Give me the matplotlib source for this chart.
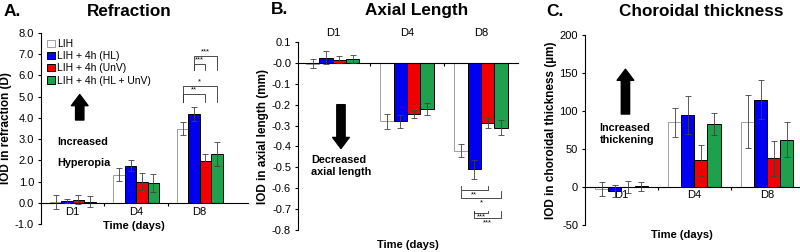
import numpy as np
import matplotlib
matplotlib.use('Agg')
import matplotlib.pyplot as plt
from matplotlib.patches import Patch

plt.rcParams['font.family'] = ['Liberation Sans', 'DejaVu Sans']

# categories and groups
days = ['D1', 'D4', 'D8']
groups = ['LIH', 'LIH + 4h (HL)', 'LIH + 4h (UnV)', 'LIH + 4h (HL + UnV)']
colors = ['white', '#0000f0', '#f00000', '#1ea04c']
edges = ['#a0a0a0', 'black', 'black', 'black']

# refraction (D)
refr_lih = [0.05, 1.32, 3.49]
refr_hl = [0.08, 1.75, 4.20]
refr_unv = [0.14, 0.98, 1.98]
refr_hlunv = [0.06, 0.95, 2.30]
refr_lih_err = [0.32, 0.30, 0.30]
refr_hl_err = [0.10, 0.25, 0.33]
refr_unv_err = [0.22, 0.40, 0.30]
refr_hlunv_err = [0.25, 0.42, 0.58]

# axial length (mm)
axl_lih = [-0.003, -0.28, -0.42]
axl_hl = [0.025, -0.28, -0.51]
axl_unv = [0.015, -0.245, -0.29]
axl_hlunv = [0.02, -0.22, -0.31]
axl_lih_err = [0.02, 0.035, 0.032]
axl_hl_err = [0.03, 0.03, 0.045]
axl_unv_err = [0.017, 0.02, 0.024]
axl_hlunv_err = [0.02, 0.03, 0.035]

# choroidal thickness (um)
cht_lih = [-3, 85, 86]
cht_hl = [-5, 95, 115]
cht_unv = [0, 35, 38]
cht_hlunv = [1, 83, 62]
cht_lih_err = [9, 19, 35]
cht_hl_err = [8, 25, 26]
cht_unv_err = [8, 20, 23]
cht_hlunv_err = [6, 14, 23]

W = 0.18
offs = (np.arange(4) - 1.5) * W

TICK_FS = 8
LABEL_FS = 8
YLABEL_FS = 8.5
TITLE_FS = 12.3
NOTE_FS = 7.8


def draw_bars(ax, means, errs):
    x = np.arange(len(days))
    for k in range(4):
        ax.bar(x + offs[k], means[k], W, color=colors[k], edgecolor=edges[k],
               linewidth=0.7, zorder=2)
        ax.errorbar(x + offs[k], means[k], yerr=errs[k], fmt='none',
                    ecolor='#404040', elinewidth=0.6, capsize=2, capthick=0.6, zorder=3)


def style_axes(ax, yticks, fmt, ylabel):
    for s in ['top', 'right']:
        ax.spines[s].set_visible(False)
    ax.spines['bottom'].set_position(('data', 0))
    ax.spines['left'].set_linewidth(0.8)
    ax.spines['bottom'].set_linewidth(0.8)
    ax.set_yticks(yticks)
    ax.set_yticklabels([fmt.format(v) for v in yticks], fontsize=TICK_FS)
    ax.set_ylabel(ylabel, fontsize=YLABEL_FS, fontweight='bold', labelpad=2)
    ax.tick_params(axis='y', length=2.5, width=0.8, pad=2.5)
    ax.set_xticks([0.5, 1.5])
    ax.tick_params(axis='x', which='major', length=2.5, width=0.8, labelbottom=False)
    ax.set_xticks([0, 1, 2], minor=True)
    ax.tick_params(axis='x', which='minor', length=0)


def bracket(ax, i, j, yline, yend, label, ytext, va='bottom'):
    x0 = 2 + offs[i]
    x1 = 2 + offs[j]
    ax.plot([x0, x0, x1, x1], [yend, yline, yline, yend], color='#303030', lw=0.6)
    ax.text((x0 + x1) / 2, ytext, label, ha='center', va=va, fontsize=5.5)


fig = plt.figure(figsize=(8, 2.52), dpi=100)

# ---------------- A. Refraction
axA = fig.add_axes([41 / 800, 28 / 252, 207 / 800, 191 / 252])
draw_bars(axA, [refr_lih, refr_hl, refr_unv, refr_hlunv],
          [refr_lih_err, refr_hl_err, refr_unv_err, refr_hlunv_err])
axA.set_xlim(-0.5, 2.76)
axA.set_ylim(-1, 8)
style_axes(axA, np.arange(-1, 9, 1), '{:.1f}', 'IOD in refraction (D)')
axA.set_xticklabels(days, minor=True, fontsize=TICK_FS)
axA.tick_params(axis='x', which='minor', pad=3)
axA.text(0.45, -0.01, 'Time (days)', transform=axA.transAxes, ha='center', va='center',
         fontsize=LABEL_FS, fontweight='bold')
handles = [Patch(facecolor=colors[k], edgecolor=edges[k], linewidth=0.7) for k in range(4)]
axA.legend(handles, groups, loc='upper left', bbox_to_anchor=(0.0, 1.0), frameon=False,
           fontsize=7.5, handlelength=0.7, handleheight=0.7, handletextpad=0.25,
           labelspacing=0.2, borderaxespad=0.2)
axA.annotate('', xy=(0.11, 5.1), xytext=(0.11, 3.9),
             arrowprops=dict(width=6, headwidth=12, headlength=8, color='black'))
axA.text(-0.25, 2.87, 'Increased', fontsize=NOTE_FS, fontweight='bold',
         ha='left', va='center')
axA.text(-0.25, 1.88, 'Hyperopia', fontsize=NOTE_FS, fontweight='bold',
         ha='left', va='center')
bracket(axA, 1, 3, 6.92, 6.26, '***', 6.94)
bracket(axA, 1, 2, 6.54, 6.26, '***', 6.56)
bracket(axA, 0, 3, 5.5, 4.75, '*', 5.52)
bracket(axA, 0, 2, 5.13, 4.75, '**', 5.15)
fig.text(4 / 800, 1 - 12 / 252, 'A.', fontsize=12.5, fontweight='bold', va='center')
fig.text(129 / 800, 1 - 12 / 252, 'Refraction', fontsize=TITLE_FS, fontweight='bold',
         ha='center', va='center')

# ---------------- B. Axial length
axB = fig.add_axes([298 / 800, 22 / 252, 220 / 800, 188 / 252])
draw_bars(axB, [axl_lih, axl_hl, axl_unv, axl_hlunv],
          [axl_lih_err, axl_hl_err, axl_unv_err, axl_hlunv_err])
axB.set_xlim(-0.47, 2.5)
axB.set_ylim(-0.8, 0.1)
style_axes(axB, np.round(np.arange(-0.8, 0.11, 0.1), 1), '{:.1f}', 'IOD in axial length (mm)')
for k, d in enumerate(days):
    axB.text(k, 1.05, d, transform=axB.get_xaxis_transform(), ha='center', va='center',
             fontsize=TICK_FS)
axB.text(0.5, -0.08, 'Time (days)', transform=axB.transAxes, ha='center', va='center',
         fontsize=LABEL_FS, fontweight='bold')
axB.annotate('', xy=(0.11, -0.41), xytext=(0.11, -0.2),
             arrowprops=dict(width=6, headwidth=12, headlength=8, color='black'))
axB.text(-0.29, -0.493, 'Decreased\naxial length', fontsize=NOTE_FS, fontweight='bold',
         ha='left', va='center', linespacing=1.2)
bracket(axB, 0, 2, -0.61, -0.59, '**', -0.615, va='top')
bracket(axB, 0, 3, -0.648, -0.614, '*', -0.655, va='top')
bracket(axB, 1, 2, -0.72, -0.71, '***', -0.722, va='top')
bracket(axB, 1, 3, -0.743, -0.71, '***', -0.75, va='top')
fig.text(271 / 800, 1 - 10 / 252, 'B.', fontsize=12.5, fontweight='bold', va='center')
fig.text(417 / 800, 1 - 11 / 252, 'Axial Length', fontsize=TITLE_FS, fontweight='bold',
         ha='center', va='center')

# ---------------- C. Choroidal thickness
axC = fig.add_axes([585 / 800, 27 / 252, 215 / 800, 190 / 252])
draw_bars(axC, [cht_lih, cht_hl, cht_unv, cht_hlunv],
          [cht_lih_err, cht_hl_err, cht_unv_err, cht_hlunv_err])
axC.set_xlim(-0.5, 2.45)
axC.set_ylim(-50, 200)
style_axes(axC, np.arange(-50, 201, 50), '{:.0f}', 'IOD in choroidal thickness (µm)')
axC.set_xticklabels(days, minor=True, fontsize=TICK_FS)
axC.tick_params(axis='x', which='minor', pad=2)
axC.text(0.45, -0.05, 'Time (days)', transform=axC.transAxes, ha='center', va='center',
         fontsize=LABEL_FS, fontweight='bold')
axC.annotate('', xy=(0.055, 155), xytext=(0.055, 96),
             arrowprops=dict(width=6, headwidth=12, headlength=8, color='black'))
axC.text(-0.3, 70, 'Increased\nthickening', fontsize=NOTE_FS, fontweight='bold',
         ha='left', va='center', linespacing=1.2)
fig.text(546 / 800, 1 - 11 / 252, 'C.', fontsize=12.5, fontweight='bold', va='center')
fig.text(701 / 800, 1 - 12 / 252, 'Choroidal thickness', fontsize=TITLE_FS, fontweight='bold',
         ha='center', va='center')

fig.savefig('out.png', dpi=100)
